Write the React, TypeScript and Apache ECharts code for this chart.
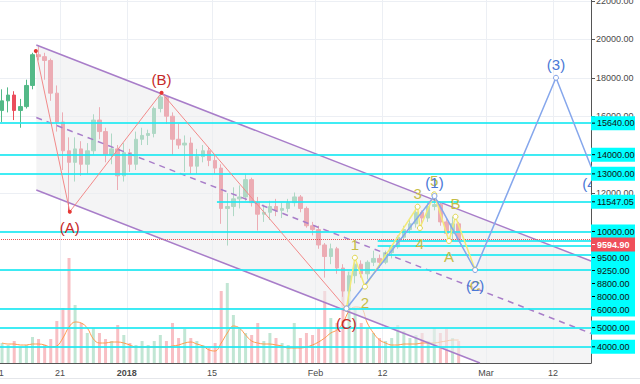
import React, { useEffect, useRef } from 'react';
import * as echarts from 'echarts';

// Day numbers: 0 = Jan 1 2018. First candle = Dec 11 2017.
const firstDay = -21;
const opens = [16300, 16800, 17100, 16300, 16500, 17600, 19200, 19100, 18900, 17200, 15700, 14200, 13600, 14300, 13500, 14200, 15800, 15200, 14000, 14300, 12900,
  14100, 13500, 14800, 15000, 15100, 16400, 17000, 16000, 14800, 14500, 14600, 13400, 13900, 14200, 13700, 13300, 11200, 11300, 11700, 11800, 12700, 11500, 10900, 11000, 11300, 11100, 11200, 11500, 11800, 11200, 10300,
  10100, 9300, 8700, 9100, 8100, 6900, 7700, 8300, 7800, 8400, 8600, 8400, 8900, 9200, 9700, 10100, 10400, 11000, 10700, 11300, 11400, 10500, 9900, 10400];
const closes = [16800, 17100, 16300, 16500, 17600, 19200, 19100, 18900, 17200, 15700, 14200, 13600, 14300, 13500, 14200, 15800, 15200, 14000, 14300, 12900, 14100,
  13500, 14800, 15000, 15100, 16400, 17000, 16000, 14800, 14500, 14600, 13400, 13900, 14200, 13700, 13300, 11200, 11300, 11700, 11800, 12700, 11500, 10900, 11000, 11300, 11100, 11200, 11500, 11800, 11200, 10300, 10100,
  9300, 8700, 9100, 8100, 6900, 7700, 8300, 7800, 8400, 8600, 8400, 8900, 9200, 9700, 10100, 10400, 11000, 10700, 11300, 11400, 10500, 9900, 10400, 9594.9];
const highs = [17400, 17500, 17300, 16900, 17900, 19300, 19700, 19300, 19000, 17600, 16200, 14900, 14900, 14700, 14600, 16100, 16470, 15400, 15100, 14500, 14600,
  14300, 15200, 15400, 15300, 16500, 17222, 17100, 16200, 15600, 15000, 14900, 14300, 14500, 14400, 14000, 13500, 12000, 12300, 12400, 13000, 12800, 11800, 11400, 11600, 11700, 11500, 11700, 12030, 11900, 11300, 10500,
  10300, 9400, 9370, 9200, 8300, 7900, 8637, 8500, 8500, 9000, 8800, 9000, 9300, 9800, 10300, 10600, 11290, 11100, 11500, 11900, 11500, 10700, 10770, 10500];
const lows = [15700, 16200, 15800, 15400, 16400, 17400, 18900, 17900, 16800, 15200, 13200, 11030, 12600, 12900, 13000, 14000, 14800, 13600, 13500, 12160, 12600,
  13100, 13200, 14500, 14500, 14900, 16200, 15600, 14000, 14300, 13100, 13000, 13000, 13600, 13400, 13000, 10400, 9270, 10800, 11200, 11600, 11300, 10050, 10500, 10600, 10800, 10700, 11000, 11300, 11000, 10200, 9800,
  9100, 7600, 8300, 7800, 6600, 5994, 7300, 7600, 7500, 8200, 8100, 8300, 8600, 9100, 9500, 9900, 10200, 10182, 10500, 11100, 10300, 9800, 9500, 9500];
const volumes = [20, 18, 22, 16, 18, 26, 24, 18, 24, 42, 55, 105, 58, 40, 30, 35, 30, 24, 22, 38, 28,
  20, 18, 22, 18, 22, 28, 22, 40, 25, 34, 25, 22, 18, 15, 20, 72, 80, 48, 34, 30, 28, 40, 22, 30, 25, 20, 18, 40, 25, 30, 28,
  35, 72, 45, 40, 85, 92, 55, 40, 35, 30, 25, 22, 25, 38, 32, 25, 28, 30, 22, 35, 30, 34, 25, 22];
const volumeMA = [20, 19, 19, 18, 18, 19, 19, 18, 16, 17, 25, 36, 41, 40, 35, 24, 20, 20, 21, 21, 20,
  18, 16, 16, 16, 16, 16, 16, 17, 18, 20, 21, 19, 17, 13, 12, 20, 30, 37, 35, 28, 22, 20, 19, 19, 18, 17, 15, 15, 15, 16, 18,
  21, 25, 30, 33, 40, 52, 56, 55, 40, 30, 23, 20, 18, 18, 19, 19, 19, 20, 20, 20, 21, 22, 23, 23];

const xMin = -21;
const xMax = 76.24;
const yMin = 3158;
const yMax = 22047;

const dateTickDays = [-21, -11, 0, 14, 31, 42, 59, 70];
const dateTickLabels = ['11', '21', '2018', '15', 'Feb', '12', 'Mar', '12'];
const gridPrices = [4000, 6000, 8000, 10000, 12000, 14000, 16000, 18000, 20000, 22000];
const axisPrices = [12000, 14000, 16000, 18000, 20000, 22000];

const levelPrices = [15640, 14000, 13000, 11547.05, 10000, 9500, 9250, 8800, 8000, 6000, 5000, 4000];
const levelStartDays = [-21, -21, -21, 14.8, -21, 41.2, 41.2, 42.4, -21, -21, -21, -21];
const lastPrice = 9594.9;

const channelUpper = [[-14.87, 19703], [76.24, 8465]];
const channelLower = [[-14.87, 12159], [58.0, 3158]];
const channelMid = [[-14.87, 15931], [76.24, 4697]];

const abcDays = [-14.95, -9.37, 5.7, 36.07];
const abcPrices = [19391, 11030, 17222, 5994];
const abcLabels = ['', '(A)', '(B)', '(C)'];
const minorDays = [36.07, 37.46, 39.11, 47.76, 48.14, 50.49, 52.91, 53.98, 57.2];
const minorPrices = [5994, 8637, 7128, 11290, 10182, 11935, 9506, 10770, 8023];
const minorLabels = ['', '1', '2', '3', '4', '5', 'A', 'B', 'C'];
const majorDays = [36.07, 50.53, 57.2, 70.49, 76.3];
const majorPrices = [5994, 11847, 7997, 18000, 13330];
const majorLabels = ['', '(1)', '(2)', '(3)', '(4)'];

const FONT = 'Arial, "Liberation Sans", sans-serif';
const UP = '#53b987';
const DOWN = '#eb4d5c';

function buildOption() {
  const candles = opens.map((o, i) => [firstDay + i + 0.5, o, closes[i], lows[i], highs[i]]);
  const volData = volumes.map((v, i) => ({
    value: [firstDay + i + 0.5, v],
    itemStyle: { color: closes[i] >= opens[i] ? UP : DOWN, opacity: 0.36 },
  }));
  const maData = volumeMA.map((v, i) => [firstDay + i + 0.5, v]);

  const waves = [
    { days: abcDays, prices: abcPrices, labels: abcLabels, color: '#c62828' },
    { days: minorDays, prices: minorPrices, labels: minorLabels, color: '#c6bd47' },
    { days: majorDays, prices: majorPrices, labels: majorLabels, color: '#4a78d6' },
  ];
  const labelItems: number[][] = [];
  waves.forEach((w, wi) => w.days.forEach((d, pi) => {
    if (w.labels[pi]) labelItems.push([d, w.prices[pi], wi, pi]);
  }));

  const tagPrices = [...levelPrices, lastPrice];

  const levelLines: any[] = levelPrices.map((p, i) => [
    { coord: [levelStartDays[i], p] },
    { coord: [xMax, p] },
  ]);
  levelLines.push([
    { coord: [xMin, lastPrice], lineStyle: { color: '#ef5350', type: 'dotted', width: 1, opacity: 1 } },
    { coord: [xMax, lastPrice] },
  ]);

  const purple = '#a87dc9';

  return {
    animation: false,
    backgroundColor: '#ffffff',
    grid: { left: -1, right: 49, top: 0, bottom: 21, containLabel: false, outerBoundsMode: 'none' },
    xAxis: {
      type: 'value', min: xMin, max: xMax,
      axisLine: { show: true, onZero: false, lineStyle: { color: '#555', width: 1 } },
      axisTick: { show: false, customValues: dateTickDays },
      axisLabel: {
        customValues: dateTickDays, color: '#4a4a4a', fontSize: 9, fontFamily: FONT, margin: 5,
        formatter: (v: number) => {
          const i = dateTickDays.findIndex((d) => Math.abs(d - v) < 1e-6);
          const t = i >= 0 ? dateTickLabels[i] : '';
          return /^\d{4}$/.test(t) ? `{b|${t}}` : t;
        },
        rich: { b: { fontWeight: 'bold', fontSize: 9, color: '#4a4a4a', fontFamily: FONT } },
      },
      splitLine: { show: true, lineStyle: { color: '#eceff4', width: 1 } },
    },
    yAxis: [
      {
        type: 'value', position: 'right', min: yMin, max: yMax,
        axisLine: { show: true, onZero: false, lineStyle: { color: '#555', width: 1 } },
        axisTick: { show: true, length: 4, customValues: gridPrices, lineStyle: { color: '#555' } },
        axisLabel: {
          customValues: axisPrices, color: '#4a4a4a', fontSize: 9, fontFamily: FONT, margin: 5,
          formatter: (v: number) => v.toFixed(2),
        },
        splitLine: { show: true, lineStyle: { color: '#eceff4', width: 1 } },
      },
      { type: 'value', min: 0, max: 363, show: false, axisLine: { onZero: false } },
    ],
    graphic: [
      { type: 'line', shape: { x1: 0, y1: 378.5, x2: 640, y2: 378.5 }, style: { stroke: '#e4e6ea', lineWidth: 1 }, silent: true },
    ],
    series: [
      {
        type: 'candlestick', name: 'BTCUSD', data: candles, encode: { x: 0, y: [1, 2, 3, 4] },
        barWidth: 4, z: 2,
        itemStyle: { color: UP, color0: DOWN, borderColor: UP, borderColor0: DOWN, borderWidth: 1 },
      },
      {
        type: 'bar', name: 'Volume', data: volData, yAxisIndex: 1, barWidth: 3, z: 2,
      },
      {
        type: 'line', name: 'Volume MA', data: maData, yAxisIndex: 1, symbol: 'none', smooth: 0.4, z: 2,
        lineStyle: { color: '#ff9a4d', width: 1 },
      },
      {
        type: 'custom', name: 'channelFill', data: [channelUpper[0]], encode: { x: 0, y: 1 }, clip: true, z: 3, silent: true,
        renderItem: (params: any, api: any) => {
          const pts = [channelUpper[0], channelUpper[1], [xMax, yMin], channelLower[1], channelLower[0]].map((p) => api.coord(p));
          return { type: 'polygon', shape: { points: pts }, style: { fill: 'rgba(236,236,238,0.6)' } };
        },
      },
      {
        type: 'line', name: 'channelUpper', data: channelUpper, symbol: 'none', z: 4, silent: true,
        lineStyle: { color: purple, width: 1.5 },
        markLine: {
          silent: true, symbol: ['none', 'none'], label: { show: false },
          lineStyle: { color: '#1ee9f2', width: 2, type: 'solid', opacity: 0.85 },
          data: levelLines,
        },
      },
      {
        type: 'line', name: 'channelLower', data: channelLower, symbol: 'none', z: 4, silent: true,
        lineStyle: { color: purple, width: 1.5 },
      },
      {
        type: 'line', name: 'channelMid', data: channelMid, symbol: 'none', z: 4, silent: true,
        lineStyle: { color: purple, width: 1.5, type: [6, 5] },
      },
      {
        type: 'line', name: 'ABC', data: abcDays.map((d, i) => [d, abcPrices[i]]), z: 5,
        symbol: 'circle', symbolSize: 4, itemStyle: { color: '#e53935' },
        lineStyle: { color: '#f28a8a', width: 1 },
      },
      {
        type: 'line', name: 'minor', data: minorDays.map((d, i) => [d, minorPrices[i]]), z: 5,
        symbol: 'circle', symbolSize: 5, itemStyle: { color: '#ffffff', borderColor: '#e0d64e', borderWidth: 1 },
        lineStyle: { color: '#f3ea78', width: 1.5 },
      },
      {
        type: 'line', name: 'major', data: majorDays.map((d, i) => [d, majorPrices[i]]), z: 5,
        symbol: 'circle', symbolSize: 5, itemStyle: { color: '#ffffff', borderColor: '#7d9fe5', borderWidth: 1 },
        lineStyle: { color: '#86a7ec', width: 1.5 },
      },
      {
        type: 'custom', name: 'waveLabels', data: labelItems, encode: { x: 0, y: 1 }, clip: true, z: 6, silent: true,
        renderItem: (params: any, api: any) => {
          const wi = api.value(2);
          const pi = api.value(3);
          const w = waves[wi];
          const p = api.coord([api.value(0), api.value(1)]);
          const peak = w.prices[pi] > w.prices[pi - 1];
          return {
            type: 'text', x: p[0], y: p[1] + (peak ? -13.5 : 15.5),
            style: { text: w.labels[pi], fill: w.color, font: `15px ${FONT}`, align: 'center', verticalAlign: 'middle' },
          };
        },
      },
      {
        type: 'custom', name: 'priceTags', data: tagPrices.map((p, i) => [xMax, p, i]), encode: { x: 0, y: 1 }, clip: false, z: 7, silent: true,
        renderItem: (params: any, api: any) => {
          const ys = tagPrices.map((p) => api.coord([xMax, p])[1]);
          const order = ys.map((_, i) => i).sort((a, b) => ys[a] - ys[b]);
          const placed: number[] = [];
          let last = -1e9;
          order.forEach((i) => { const y = Math.max(ys[i], last + 13); placed[i] = y; last = y; });
          const i = params.dataIndex;
          const x = api.coord([xMax, tagPrices[i]])[0];
          const y = placed[i];
          const isLast = i === tagPrices.length - 1;
          return {
            type: 'group',
            children: [
              { type: 'rect', shape: { x, y: y - 7, width: 44, height: 14 }, style: { fill: isLast ? '#ef4f5a' : '#00ffff' } },
              { type: 'line', shape: { x1: x + 1, y1: y, x2: x + 4, y2: y }, style: { stroke: isLast ? '#ffffff' : '#000000', lineWidth: 1 } },
              {
                type: 'text', x: x + 6, y,
                style: { text: tagPrices[i].toFixed(2), fill: isLast ? '#ffffff' : '#111111', font: `${isLast ? 'bold ' : ''}9px ${FONT}`, align: 'left', verticalAlign: 'middle' },
              },
            ],
          };
        },
      },
    ],
  };
}

export default function App() {
  const ref = useRef<HTMLDivElement>(null);
  useEffect(() => {
    if (!ref.current) return;
    const chart = echarts.init(ref.current, null, { renderer: 'svg' });
    chart.setOption(buildOption() as any);
    return () => chart.dispose();
  }, []);
  return (
    <div
      ref={ref}
      style={{ position: 'absolute', left: 0, top: 0, width: 640, height: 384, background: '#ffffff' }}
    />
  );
}
